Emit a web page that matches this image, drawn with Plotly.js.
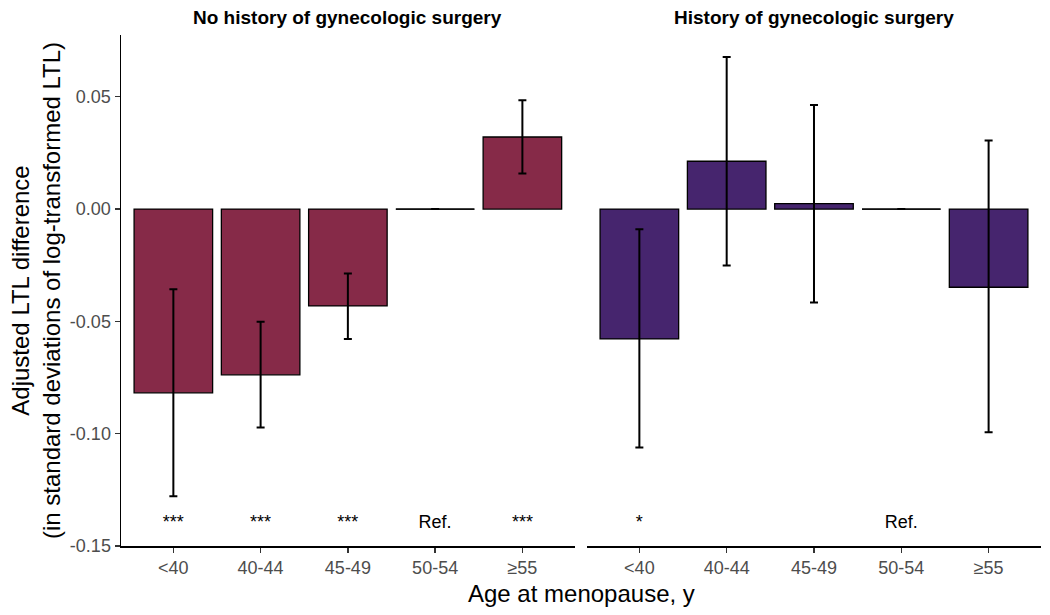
<!DOCTYPE html>
<html>
<head>
<meta charset="utf-8">
<script src="https://cdn.plot.ly/plotly-3.0.1.min.js"></script>
<style>
  body { margin: 0; background: #ffffff; }
  #chart { width: 1050px; height: 615px; }
</style>
</head>
<body>
<div id="chart"></div>
<script>
// age groups shared by both panels
const ageGroups = ['<40', '40-44', '45-49', '50-54', '\u226555'];
const refGroup = '50-54';

// No history of gynecologic surgery
const noSurgeryEst = [-0.0818, -0.0738, -0.0431, 0, 0.0321];
const noSurgeryLow = [-0.1279, -0.0972, -0.0578, null, 0.0158];
const noSurgeryHigh = [-0.0357, -0.0502, -0.0287, null, 0.0484];
const noSurgerySig = ['***', '***', '***', 'Ref.', '***'];

// History of gynecologic surgery
const surgeryEst = [-0.0578, 0.0213, 0.0024, 0, -0.0348];
const surgeryLow = [-0.1061, -0.0251, -0.0416, null, -0.0994];
const surgeryHigh = [-0.0090, 0.0677, 0.0463, null, 0.0305];
const surgerySig = ['*', '', '', 'Ref.', ''];

const yTickVals = [-0.15, -0.10, -0.05, 0.00, 0.05];
const yTickText = ['-0.15', '-0.10', '-0.05', '0.00', '0.05'];
const sigY = -0.14;

const fontFamily = '"Liberation Sans", Arial, sans-serif';

function errPlus(est, high) {
    return est.map((v, i) => high[i] === null ? null : high[i] - v);
}
function errMinus(est, low) {
    return est.map((v, i) => low[i] === null ? null : v - low[i]);
}

function barTrace(est, low, high, color, xaxis) {
    return {
        type: 'bar',
        x: ageGroups,
        y: est,
        xaxis: xaxis,
        yaxis: 'y',
        width: 0.9,
        marker: { color: color, line: { color: '#000000', width: 1.3 } },
        error_y: {
            type: 'data',
            symmetric: false,
            array: errPlus(est, high),
            arrayminus: errMinus(est, low),
            color: '#000000',
            thickness: 2,
            width: 4
        },
        hoverinfo: 'x+y',
        showlegend: false
    };
}

function sigTrace(labels, xaxis) {
    return {
        type: 'scatter',
        mode: 'text',
        x: ageGroups,
        y: ageGroups.map(() => sigY),
        text: labels,
        textposition: 'middle center',
        textfont: { family: fontFamily, size: 18, color: '#000000' },
        xaxis: xaxis,
        yaxis: 'y',
        hoverinfo: 'skip',
        showlegend: false
    };
}

const data = [
    barTrace(noSurgeryEst, noSurgeryLow, noSurgeryHigh, '#862a48', 'x'),
    barTrace(surgeryEst, surgeryLow, surgeryHigh, '#46256e', 'x2'),
    sigTrace(noSurgerySig, 'x'),
    sigTrace(surgerySig, 'x2')
];

// the reference group has a zero-height bar, drawn as a flat line
const refIdx = ageGroups.indexOf(refGroup);
const refShapes = ['x', 'x2'].map(xr => ({
    type: 'line', xref: xr, yref: 'y',
    x0: refIdx - 0.45, x1: refIdx + 0.45, y0: 0, y1: 0,
    line: { color: '#000000', width: 1.3 }
}));

const xAxisBase = {
    type: 'category',
    range: [-0.6, ageGroups.length - 0.4],
    showline: true, linecolor: '#000000', linewidth: 1.5,
    ticks: 'outside', ticklen: 5, tickwidth: 1.3, tickcolor: '#333333',
    tickfont: { family: fontFamily, size: 18, color: '#4d4d4d' },
    showgrid: false, zeroline: false, fixedrange: true
};

const layout = {
    width: 1050,
    height: 615,
    margin: { l: 121, r: 9, t: 35, b: 69 },
    paper_bgcolor: '#ffffff',
    plot_bgcolor: '#ffffff',
    font: { family: fontFamily, color: '#000000' },
    barmode: 'overlay',
    xaxis: Object.assign({}, xAxisBase, { domain: [0, 0.4932], anchor: 'y' }),
    xaxis2: Object.assign({}, xAxisBase, { domain: [0.5065, 1], anchor: 'y' }),
    yaxis: {
        range: [-0.15, 0.0775],
        tickvals: yTickVals,
        ticktext: yTickText,
        showline: true, linecolor: '#000000', linewidth: 1.5,
        ticks: 'outside', ticklen: 5, tickwidth: 1.3, tickcolor: '#333333',
        tickfont: { family: fontFamily, size: 18, color: '#4d4d4d' },
        showgrid: false, zeroline: false, fixedrange: true,
        title: {
            text: 'Adjusted LTL difference<br>(in standard deviations of log-transformed LTL)',
            font: { family: fontFamily, size: 24, color: '#000000' },
            standoff: 2
        }
    },
    shapes: refShapes,
    annotations: [
        {
            text: '<b>No history of gynecologic surgery</b>',
            xref: 'x domain', yref: 'paper', x: 0.5, y: 1.035,
            xanchor: 'center', yanchor: 'middle', showarrow: false,
            font: { family: fontFamily, size: 19, color: '#000000' }
        },
        {
            text: '<b>History of gynecologic surgery</b>',
            xref: 'x2 domain', yref: 'paper', x: 0.5, y: 1.035,
            xanchor: 'center', yanchor: 'middle', showarrow: false,
            font: { family: fontFamily, size: 19, color: '#000000' }
        },
        {
            text: 'Age at menopause, y',
            xref: 'paper', yref: 'paper', x: 0.5, y: -0.092,
            xanchor: 'center', yanchor: 'middle', showarrow: false,
            font: { family: fontFamily, size: 24, color: '#000000' }
        }
    ]
};

Plotly.newPlot('chart', data, layout, { displayModeBar: false, staticPlot: true });
</script>
</body>
</html>
